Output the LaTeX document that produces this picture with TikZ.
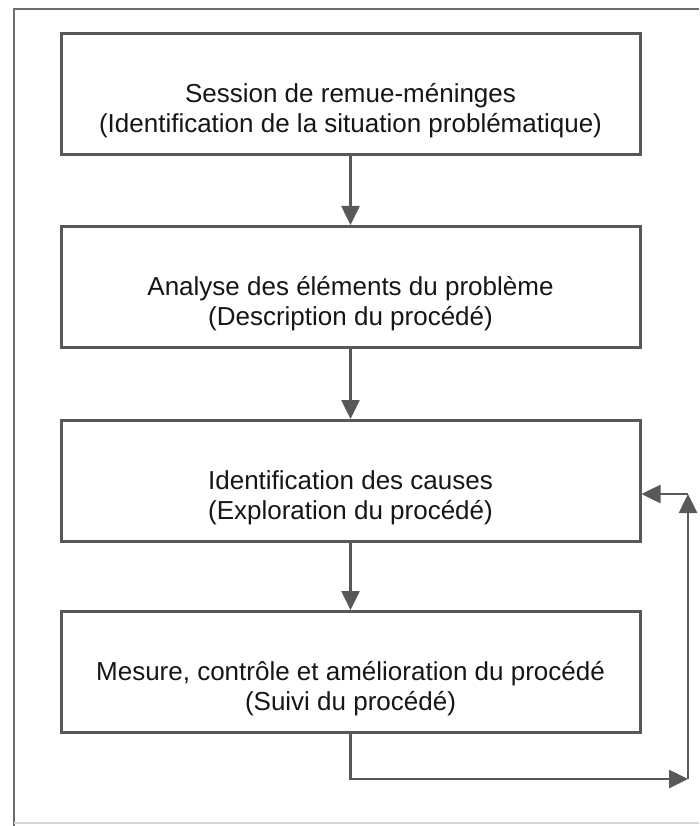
\documentclass[tikz,border=0pt]{standalone}
\usepackage{fontspec}
\setmainfont{Liberation Sans}
\usetikzlibrary{arrows.meta, positioning, calc}
\definecolor{cline}{HTML}{585858}
\definecolor{ctext}{HTML}{161616}
\definecolor{cframe}{HTML}{6E6E6E}
\tikzset{
  every picture/.style={line width=3pt},
  box/.style={draw=cline, fill=white, minimum width=579pt, minimum height=121pt, inner sep=0pt},
  boxtext/.style={text=ctext, align=center, font=\fontsize{26}{30}\selectfont, inner sep=0pt},
  arrow/.style={-{Triangle[length=19pt, width=18pt]}, draw=cline, line width=2.6pt},
}

\begin{document}
\begin{tikzpicture}[x=1pt, y=-1pt]
  \useasboundingbox (0,0) rectangle (699,826);
  % cadre
  \draw[cframe, line width=2.5pt] (14,826) -- (14,9) -- (699,9);
  \draw[cframe!30, line width=1.5pt] (14,823) -- (699,823);
  \foreach \i/\y/\t in {
      1/94/{Session de remue-méninges\\(Identification de la situation problématique)},
      2/287/{Analyse des éléments du problème\\(Description du procédé)},
      3/481/{Identification des causes\\(Exploration du procédé)},
      4/672/{Mesure, contrôle et amélioration du procédé\\(Suivi du procédé)}}
  {
    \node[box] (s\i) at (350.5,\y) {};
    \node[boxtext] (t\i) at ([yshift=-17pt]s\i.center) {\t};
  }
  \foreach \a/\b in {1/2, 2/3, 3/4} \draw[arrow] (s\a) -- (s\b);
  % boucle de retour
  \coordinate (fbR) at (688,779);
  \coordinate (fbT) at (688,494);
  \draw[arrow] (s4.south) |- (fbR);
  \draw[arrow] (fbR) -- (fbT);
  \draw[arrow] (fbT) -- (fbT -| s3.east);
\end{tikzpicture}
\end{document}
